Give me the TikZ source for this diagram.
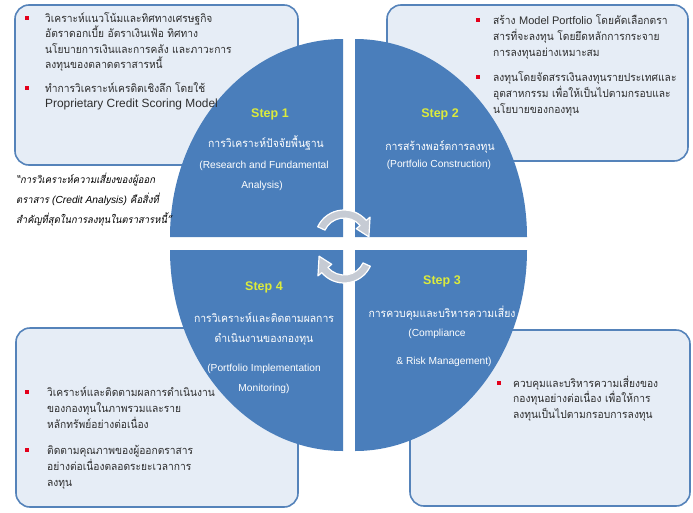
\documentclass[tikz,border=0pt]{standalone}
\usepackage{fontspec}
\setmainfont{Liberation Sans}
\newfontfamily\thaifont[Script=Thai, FakeStretch=0.93]{Loma}
\newfontfamily\thaiSlantFont[Script=Thai, FakeStretch=0.93, FakeSlant=0.2]{Loma}
\newcommand{\latinText}[1]{{\rmfamily #1}}
\definecolor{quadBlue}{HTML}{4A7EBB}
\definecolor{boxFill}{HTML}{E6EDF6}
\definecolor{boxLine}{HTML}{5583BA}
\definecolor{stepGreen}{HTML}{DCEB3C}
\definecolor{loopGray}{HTML}{C6CBD4}
\definecolor{bulletRed}{HTML}{E3001B}
\definecolor{bodyText}{HTML}{2E2E2E}
\tikzstyle{infoBox}=[draw = boxLine, fill = boxFill, line width = 1.6pt, rounded corners = 14pt]
\tikzstyle{quarter}=[fill = quadBlue]
\tikzstyle{loopArrow}=[fill = loopGray, draw = white, line width = 1.2pt, line join = round]
\tikzstyle{bulletMark}=[shape = rectangle, minimum size = 3.5pt, inner sep = 0pt, fill = bulletRed]
\tikzstyle{boxText}=[anchor = base west, align = left, inner sep = 0pt, text = bodyText, font = \thaifont\fontsize{11}{15.5}\selectfont]

\begin{document}
\begin{tikzpicture}[x = 1pt, y = -1pt]
\tikzstyle{stepTitle}=[anchor = base, inner sep = 0pt, text = stepGreen, font = \rmfamily\bfseries\fontsize{12.5}{15}\selectfont]
\tikzstyle{quadThai}=[anchor = base, inner sep = 0pt, text = white, font = \thaifont\fontsize{11.2}{13}\selectfont]
\tikzstyle{quadLatin}=[anchor = base, inner sep = 0pt, text = white, font = \rmfamily\fontsize{10.2}{12}\selectfont]
\useasboundingbox (0,0) rectangle (693,512);
\draw[infoBox] (15,5) rectangle (298,165);
\draw[infoBox] (387,5) rectangle (688,161);
\draw[infoBox] (16,328) rectangle (298,507);
\draw[infoBox] (410,330) rectangle (690,506);
\fill[quarter] (343,237) -- (343,39) arc[start angle = 270, end angle = 180, x radius = 173, y radius = 198] -- cycle;
\fill[quarter] (355,237) -- (355,39) arc[start angle = 270, end angle = 360, x radius = 172, y radius = 198] -- cycle;
\fill[quarter] (343,250) -- (343,451) arc[start angle = 90, end angle = 180, x radius = 173, y radius = 201] -- cycle;
\fill[quarter] (355,250) -- (355,451) arc[start angle = 90, end angle = 0, x radius = 172, y radius = 201] -- cycle;
\begin{scope}[shift = {(344,239)}, yscale = -1]
\filldraw[loopArrow] (155:29) arc[start angle = 155, end angle = 40, radius = 29] -- (40:34) -- (5:25) -- (40:16) -- (40:21) arc[start angle = 40, end angle = 155, radius = 21] -- cycle;
\end{scope}
\begin{scope}[shift = {(344,254)}, yscale = -1]
\filldraw[loopArrow] (-25:29) arc[start angle = -25, end angle = -140, radius = 29] -- (-140:34) -- (-175:25) -- (-140:16) -- (-140:21) arc[start angle = -140, end angle = -25, radius = 21] -- cycle;
\end{scope}
\node[bulletMark] (tlDotA) at (27,18) {};
\node[boxText] (tlTextA) at (45,68.5) {วิเคราะห์แนวโน้มและทิศทางเศรษฐกิจ\\อัตราดอกเบี้ย อัตราเงินเฟ้อ ทิศทาง\\นโยบายการเงินและการคลัง และภาวะการ\\ลงทุนของตลาดตราสารหนี้};
\node[bulletMark] (tlDotB) at (27,88) {};
\node[boxText] (tlTextB) at (45,107.5) {ทำการวิเคราะห์เครดิตเชิงลึก โดยใช้\\\latinText{\fontsize{11.9}{15.5}\selectfont Proprietary Credit Scoring Model}};
\node[bulletMark] (trDotA) at (478,20) {};
\node[boxText, font = \thaifont\fontsize{11}{16}\selectfont] (trTextA) at (493,56) {สร้าง \latinText{Model Portfolio} โดยคัดเลือกตรา\\สารที่จะลงทุน โดยยึดหลักการกระจาย\\การลงทุนอย่างเหมาะสม};
\node[bulletMark] (trDotB) at (478,77) {};
\node[boxText, font = \thaifont\fontsize{11}{16}\selectfont] (trTextB) at (493,113) {ลงทุนโดยจัดสรรเงินลงทุนรายประเทศและ\\อุตสาหกรรม เพื่อให้เป็นไปตามกรอบและ\\นโยบายของกองทุน};
\node[boxText, text = black, font = \thaiSlantFont\fontsize{10.2}{20}\selectfont] (quoteText) at (16,223) {“การวิเคราะห์ความเสี่ยงของผู้ออก\\ตราสาร {\rmfamily\itshape (Credit Analysis)} คือสิ่งที่\\สำคัญที่สุดในการลงทุนในตราสารหนี้”};
\node[bulletMark] (blDotA) at (27,392) {};
\node[boxText, font = \thaifont\fontsize{11}{16}\selectfont] (blTextA) at (47,428) {วิเคราะห์และติดตามผลการดำเนินงาน\\ของกองทุนในภาพรวมและราย\\หลักทรัพย์อย่างต่อเนื่อง};
\node[bulletMark] (blDotB) at (27,450) {};
\node[boxText, font = \thaifont\fontsize{11}{16}\selectfont] (blTextB) at (47,486) {ติดตามคุณภาพของผู้ออกตราสาร\\อย่างต่อเนื่องตลอดระยะเวลาการ\\ลงทุน};
\node[bulletMark] (brDotA) at (499,383) {};
\node[boxText] (brTextA) at (513,418) {ควบคุมและบริหารความเสี่ยงของ\\กองทุนอย่างต่อเนื่อง เพื่อให้การ\\ลงทุนเป็นไปตามกรอบการลงทุน};
\node[stepTitle] (stepOne) at (270,117) {Step 1};
\node[quadThai] (stepOneTh) at (266,147) {การวิเคราะห์ปัจจัยพื้นฐาน};
\node[quadLatin] (stepOneEnA) at (264,168) {(Research and Fundamental};
\node[quadLatin] (stepOneEnB) at (262,188) {Analysis)};
\node[stepTitle] (stepTwo) at (440,117) {Step 2};
\node[quadThai] (stepTwoTh) at (440,150) {การสร้างพอร์ตการลงทุน};
\node[quadLatin] (stepTwoEn) at (439,167) {(Portfolio Construction)};
\node[stepTitle] (stepFour) at (264,290) {Step 4};
\node[quadThai] (stepFourThA) at (264,322) {การวิเคราะห์และติดตามผลการ};
\node[quadThai] (stepFourThB) at (264,342) {ดำเนินงานของกองทุน};
\node[quadLatin] (stepFourEnA) at (264,371) {(Portfolio Implementation};
\node[quadLatin] (stepFourEnB) at (264,391) {Monitoring)};
\node[stepTitle] (stepThree) at (442,284) {Step 3};
\node[quadThai] (stepThreeTh) at (442,317) {การควบคุมและบริหารความเสี่ยง};
\node[quadLatin] (stepThreeEnA) at (437,336) {(Compliance};
\node[quadLatin] (stepThreeEnB) at (444,364) {\& Risk Management)};
%
\end{tikzpicture}
\end{document}
